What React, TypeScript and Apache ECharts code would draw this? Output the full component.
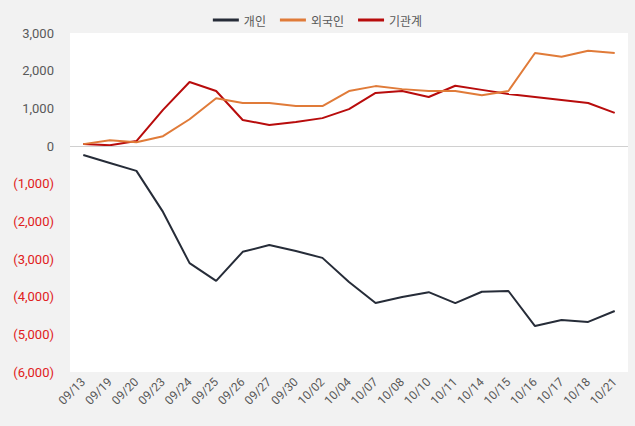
import React, { useEffect, useRef } from "react";
import * as echarts from "echarts";

const categories = ["09/13","09/19","09/20","09/23","09/24","09/25","09/26","09/27","09/30","10/02","10/04","10/07","10/08","10/10","10/11","10/14","10/15","10/16","10/17","10/18","10/21"];
const individual = [-240,-450,-660,-1750,-3110,-3580,-2810,-2630,-2790,-2970,-3610,-4170,-4010,-3880,-4170,-3870,-3850,-4780,-4620,-4670,-4380];
const foreign = [50,150,100,260,710,1270,1140,1140,1060,1060,1460,1590,1510,1460,1460,1350,1460,2470,2370,2530,2470];
const institution = [50,20,130,960,1700,1460,690,560,640,740,980,1410,1460,1300,1600,1490,1380,1300,1220,1140,880];
const seriesNames = ["개인", "외국인", "기관계"];
const colors = ["#262c38", "#e07b39", "#b80c0c"];

function fmt(v: number) {
  const s = Math.abs(v).toLocaleString("en-US");
  return v < 0 ? "(" + s + ")" : s;
}

export default function App() {
  const ref = useRef<HTMLDivElement>(null);
  useEffect(() => {
    document.body.style.margin = "0";
    const chart = echarts.init(ref.current!, null, { renderer: "svg" });
    const data = [individual, foreign, institution];
    chart.setOption({
      animation: false,
      backgroundColor: "#f2f2f2",
      textStyle: { fontFamily: "Roboto, 'Noto Sans CJK KR', sans-serif" },
      legend: {
        top: 9,
        left: "center",
        itemWidth: 26,
        itemHeight: 3,
        itemGap: 14,
        icon: "rect",
        textStyle: { color: "#595959", fontSize: 12, fontFamily: "'Noto Sans CJK KR', sans-serif" },
        data: seriesNames,
      },
      grid: {
        left: 70,
        right: 7,
        top: 33,
        bottom: 54,
        show: true,
        backgroundColor: "#ffffff",
        borderWidth: 0,
      },
      xAxis: {
        type: "category",
        data: categories,
        boundaryGap: true,
        axisLine: { show: false },
        axisTick: { show: false },
        axisLabel: { rotate: 45, color: "#595959", fontSize: 12, margin: 8, interval: 0 },
      },
      yAxis: {
        type: "value",
        min: -6000,
        max: 3000,
        interval: 1000,
        splitLine: { show: false },
        axisLine: { show: false },
        axisTick: { show: false },
        axisLabel: {
          fontSize: 13,
          margin: 16,
          formatter: (v: number) => fmt(v),
          color: (v: any) => (Number(v) < 0 ? "#e02020" : "#595959"),
        },
      },
      series: seriesNames.map((name, i) => ({
        name,
        type: "line",
        data: data[i],
        symbol: "none",
        lineStyle: { width: 2, color: colors[i] },
        itemStyle: { color: colors[i] },
        z: 3 - i,
        markLine: i === 0 ? {
          silent: true,
          symbol: "none",
          label: { show: false },
          lineStyle: { color: "#d0d0d0", type: "solid", width: 1 },
          data: [{ yAxis: 0 }],
        } : undefined,
      })),
    });
    return () => chart.dispose();
  }, []);
  return <div ref={ref} style={{ width: 635, height: 426 }} />;
}
